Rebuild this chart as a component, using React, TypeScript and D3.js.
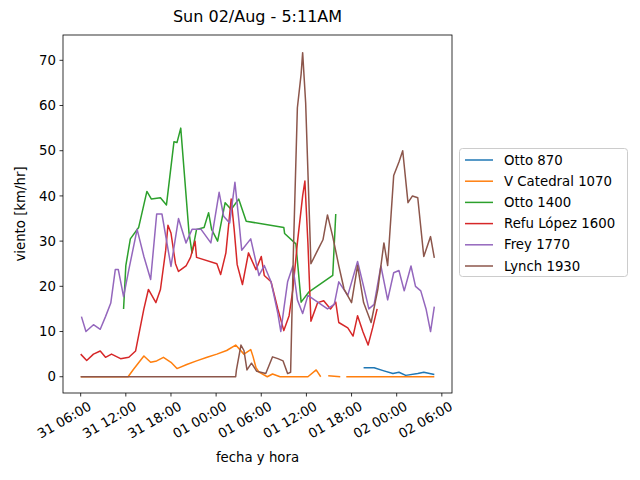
import React from 'react';
import * as d3 from 'd3';

// hours since 31/Jul 06:00, values in km/hr (null = no data)
const otto870H = [37.6, 39, 40.3, 41.5, 42.3, 43.2, 44.8, 45.6, 47];
const otto870V = [2, 2, 1.3, 0.7, 1, 0.3, 0.7, 1, 0.5];

const catedralH = [0, 6.3, 7, 8.4, 9.3, 10.1, 11, 12, 12.8, 14.1, 15.4, 16.8, 18.1, 19.4, 20.6, 21.7, 22.6, 22.9, 23.3, 23.7, 24.8, 25.5, 26.5, 30.2, 31.3, 31.9, 32.3, 32.9, 34.5, 34.9, 35.3, 47];
const catedralV = [0, 0, 1.6, 4.6, 3.2, 3.5, 4.3, 3.2, 1.8, 2.7, 3.5, 4.3, 5, 5.8, 7, 5, 6, 4.5, 2, 1, 0, 0.6, 0, 0, 1.5, 0, null, 0.2, 0, null, 0, 0];

const otto1400H = [5.7, 6, 6.6, 7.7, 8.8, 9.4, 10.6, 11.4, 12.4, 12.8, 13.3, 14.4, 14.8, 15.4, 16.4, 17, 17.4, 18.2, 19.2, 20, 21, 22, 27, 27.1, 28.6, 29.3, 30.3, 33.5, 33.9];
const otto1400V = [15, 24.6, 30.5, 33, 41, 39.3, 39.6, 38, 52, 51.8, 55, 31.8, 27.4, 32.6, 33, 36.3, 32.6, 30, 38.5, 37, 39.3, 34.4, 33, 31.7, 29.4, 16.5, 18.7, 22.4, 36];

const refuH = [0, 0.8, 1.7, 2.6, 3.3, 4.1, 5.3, 6.4, 7.3, 8.4, 9, 10, 10.6, 11.3, 11.6, 12, 12.6, 13, 14, 14.6, 15.2, 15.4, 18.1, 18.6, 19.3, 20, 20.4, 20.8, 21.5, 22.3, 23.3, 24, 24.4, 25.3, 26.2, 27, 27.7, 28.2, 28.8, 29.5, 29.8, 30.2, 30.6, 31.5, 32.3, 33.2, 33.9, 34.3, 35.5, 36.2, 36.8, 37.5, 38.2, 38.8, 39.4];
const refuV = [5, 3.6, 5, 5.7, 4.3, 5, 4, 4.3, 5.7, 15, 19.3, 16.4, 19.3, 28, 33.5, 31.8, 25, 23.3, 24.5, 26.4, 30, 26.4, 25, 22.6, 27.4, 39.3, 32.6, 24.8, 20.4, 27.4, 23.7, 26.6, 22.4, 21, 15, 10.2, 13.5, 19.3, 29.6, 40, 43.3, 29.6, 12.3, 16.4, 16.8, 15, 16.5, 12, 10.8, 9, 13.5, 10, 7, 10.8, 15];

const freyH = [0.1, 0.7, 1.7, 2.6, 3.3, 4, 4.6, 5, 5.7, 6.4, 7.5, 8.4, 9.3, 10.1, 10.8, 12, 13, 14, 14.8, 16, 17.3, 18.4, 19, 19.8, 20.5, 21, 21.4, 22.6, 23.7, 24.4, 25.3, 26.2, 26.6, 27, 27.5, 28.2, 28.8, 29.5, 30.2, 31.5, 32.8, 33.7, 34.3, 35.5, 36.8, 37.6, 38.3, 39, 39.9, 40.8, 41.6, 42.3, 43, 43.9, 44.5, 45.2, 45.9, 46.5, 47];
const freyV = [13.3, 10, 11.5, 10.5, 13.3, 16.3, 23.7, 23.7, 17.7, 23.7, 32.6, 26.6, 21.5, 36, 36, 24.4, 35, 29.6, 32.6, 32.6, 29.6, 40.8, 35.5, 34, 43, 35, 28, 30.5, 22.4, 24.6, 21, 14, 10, 15, 21, 24.5, 17, 14, 18, 16.5, 15, 16, 21, 18, 25.5, 20, 15, 16, 24.5, 17, 23, 23.5, 19, 24.5, 20, 19, 15, 10, 15.5];

const lynchH = [0, 20.6, 20.7, 21.3, 21.7, 22.1, 22.7, 23.4, 24.6, 25.5, 26.2, 26.9, 27.5, 27.9, 28.3, 28.8, 29.3, 29.5, 29.9, 30.6, 31.5, 32.2, 32.8, 33.5, 34.3, 35, 36, 36.8, 37.6, 38.6, 39.5, 40.3, 40.8, 41.6, 42.3, 42.8, 43.5, 44.1, 44.8, 45.6, 46.5, 47];
const lynchV = [0, 0, 1.5, 7, 5.8, 1.5, 3, 1.2, 0.7, 4.4, 4, 3.5, 0.7, 1, 29.6, 59.5, 67, 71.7, 60.6, 25, 28, 30.3, 35.8, 31, 24.6, 19.4, 16.4, 24.6, 16.4, 12, 19.4, 29.6, 24.6, 44.5, 47.5, 50, 38.5, 40, 39.6, 26.6, 31, 26.3];

const seriesNames = ['Otto 870', 'V Catedral 1070', 'Otto 1400', 'Refu López 1600', 'Frey 1770', 'Lynch 1930'];
const seriesColors = ['#1f77b4', '#ff7f0e', '#2ca02c', '#d62728', '#9467bd', '#8c564b'];
const yTicks = [0, 10, 20, 30, 40, 50, 60, 70];
const xTickLabels = ['31 06:00', '31 12:00', '31 18:00', '01 00:00', '01 06:00', '01 12:00', '01 18:00', '02 00:00', '02 06:00'];

const start = new Date(2020, 6, 31, 6, 0);
const toDate = (h: number) => new Date(start.getTime() + h * 3600e3);

export default function App() {
  const left = 63, right = 452, top = 35, bottom = 393;
  const x = d3.scaleTime().domain([toDate(-2.35), toDate(49.35)]).range([left, right]);
  const y = d3.scaleLinear().domain([-3.6, 75.6]).range([bottom, top]);

  const series = [
    [otto870H, otto870V], [catedralH, catedralV], [otto1400H, otto1400V],
    [refuH, refuV], [freyH, freyV], [lynchH, lynchV],
  ];
  const line = d3.line<[number, number | null]>()
    .defined(d => d[1] !== null)
    .x(d => x(toDate(d[0])))
    .y(d => y(d[1] as number));

  const font = 'DejaVu Sans, sans-serif';
  return (
    <svg width={640} height={480} style={{ position: 'absolute', left: 0, top: 0 }} fontFamily={font}>
      <rect width={640} height={480} fill="white" />
      <g clipPath="url(#c)">
        {series.map(([hs, vs], i) => (
          <path key={i} d={line(hs.map((h, j) => [h, vs[j]] as [number, number | null])) || ''}
            fill="none" stroke={seriesColors[i]} strokeWidth={1.5} strokeLinejoin="round" />
        ))}
      </g>
      <defs><clipPath id="c"><rect x={left} y={top} width={right - left} height={bottom - top} /></clipPath></defs>
      <rect x={left} y={top} width={right - left} height={bottom - top} fill="none" stroke="black" strokeWidth={0.8} />
      {yTicks.map(t => (
        <g key={t}>
          <line x1={left - 3.5} x2={left} y1={y(t)} y2={y(t)} stroke="black" strokeWidth={0.8} />
          <text x={left - 7} y={y(t)} dy="0.35em" textAnchor="end" fontSize={13.3}>{t}</text>
        </g>
      ))}
      {xTickLabels.map((lab, i) => {
        const px = x(toDate(i * 6));
        return (
          <g key={lab}>
            <line x1={px} x2={px} y1={bottom} y2={bottom + 3.5} stroke="black" strokeWidth={0.8} />
            <text transform={`translate(${px + 7},${bottom + 8}) rotate(-30)`} textAnchor="end" dy="0.7em" fontSize={13.3}>{lab}</text>
          </g>
        );
      })}
      <text x={(left + right) / 2} y={22} textAnchor="middle" fontSize={16}>Sun 02/Aug - 5:11AM</text>
      <text x={(left + right) / 2} y={462} textAnchor="middle" fontSize={13.3}>fecha y hora</text>
      <text transform={`translate(25,${(top + bottom) / 2}) rotate(-90)`} textAnchor="middle" fontSize={13.3}>viento [km/hr]</text>
      <rect x={459.5} y={148.5} width={168} height={128} rx={3} fill="white" stroke="#ccc" />
      {seriesNames.map((n, i) => (
        <g key={n}>
          <line x1={465} x2={493} y1={160 + i * 21.2} y2={160 + i * 21.2} stroke={seriesColors[i]} strokeWidth={1.5} />
          <text x={504} y={160 + i * 21.2} dy="0.35em" fontSize={13.3}>{n}</text>
        </g>
      ))}
    </svg>
  );
}
